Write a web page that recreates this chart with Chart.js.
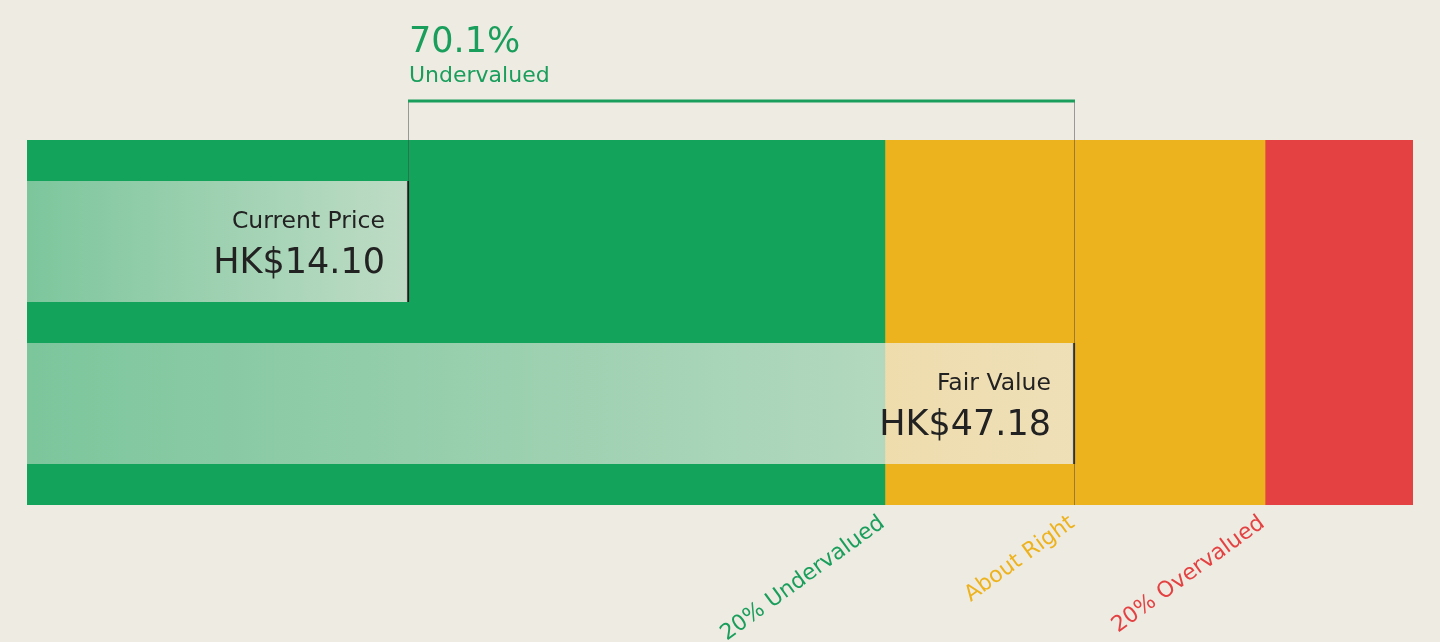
<!DOCTYPE html>
<html><head><meta charset="utf-8">
<script src="https://cdn.jsdelivr.net/npm/chart.js@4"></script>
<style>html,body{margin:0;padding:0;background:#EEEBE3;} #wrap{width:1440px;height:642px;}</style>
</head><body><div id="wrap"><canvas id="c" width="1440" height="642"></canvas></div>
<script>
// ---- data ----
const rowLabels = ['Current Price', 'Fair Value'];
const rowValues = [14.10, 47.18];
const valueTexts = ['HK$14.10', 'HK$47.18'];
const bandNames = ['20% Undervalued', 'About Right', '20% Overvalued'];
const bandEdges = [-4.87, 37.74, 56.62, 63.97];
const bandLabelValues = [37.74, 47.18, 56.62];
const headlineValue = '70.1%';
const headlineText = 'Undervalued';

// ---- styles ----
const bandColors = ['#13A35B', '#EDB31E', '#E44242'];
const labelColors = ['#1A9E5C', '#EDB31E', '#E44242'];
const FONT = "'DejaVu Sans', sans-serif";

function overlayGradient(ctx) {
  const chart = ctx.chart;
  const xs = chart.scales.x;
  if (!chart.chartArea || !xs) return 'rgba(239,236,227,0.6)';
  const x0 = xs.getPixelForValue(bandEdges[0]);
  const x1 = xs.getPixelForValue(rowValues[ctx.dataIndex] || rowValues[0]);
  const g = chart.ctx.createLinearGradient(x0, 0, Math.max(x1, x0 + 1), 0);
  g.addColorStop(0, 'rgba(239,236,227,0.48)');
  g.addColorStop(1, 'rgba(239,236,227,0.78)');
  return g;
}

const annot = {
  id: 'annot',
  afterDatasetsDraw(chart) {
    const c = chart.ctx, xs = chart.scales.x, yb = chart.scales.yBar, area = chart.chartArea;
    const xCur = Math.round(xs.getPixelForValue(rowValues[0]));
    const xFair = Math.round(xs.getPixelForValue(rowValues[1]));
    const barH = 121;
    const curTop = yb.getPixelForValue(0) - barH / 2;
    c.save();
    // grey connector lines
    c.strokeStyle = 'rgba(70,70,70,0.5)';
    c.lineWidth = 1;
    c.beginPath();
    c.moveTo(xCur - 0.5, 101); c.lineTo(xCur - 0.5, curTop);
    c.moveTo(xFair - 0.5, 101); c.lineTo(xFair - 0.5, area.bottom);
    c.stroke();
    // green bracket line
    c.strokeStyle = '#1A9E5C';
    c.lineWidth = 3;
    c.beginPath();
    c.moveTo(xCur - 1, 101); c.lineTo(xFair, 101);
    c.stroke();
    // headline
    c.fillStyle = '#1A9E5C';
    c.textAlign = 'left';
    c.textBaseline = 'alphabetic';
    c.font = '35px ' + FONT;
    c.fillText(headlineValue, xCur, 52);
    c.font = '22px ' + FONT;
    c.fillText(headlineText, xCur, 82);
    // bar texts
    c.fillStyle = '#222222';
    c.textAlign = 'right';
    rowValues.forEach((v, i) => {
      const x = xs.getPixelForValue(v) - 24;
      const top = yb.getPixelForValue(i) - barH / 2;
      c.font = '23.5px ' + FONT;
      c.fillText(rowLabels[i], x, top + 47);
      c.font = '35px ' + FONT;
      c.fillText(valueTexts[i], x, top + 92);
    });
    // band labels
    c.font = '22px ' + FONT;
    bandNames.forEach((n, i) => {
      const x = xs.getPixelForValue(bandLabelValues[i]);
      c.save();
      c.translate(x - 9, area.bottom + 7);
      c.rotate(-36 * Math.PI / 180);
      c.textAlign = 'right';
      c.textBaseline = 'top';
      c.fillStyle = labelColors[i];
      c.fillText(n, 0, 0);
      c.restore();
    });
    c.restore();
  }
};

const datasets = [
  {
    label: 'Valuation',
    yAxisID: 'yBar',
    data: rowValues.map((v, i) => ({ x: [bandEdges[0], v], y: i })),
    barThickness: 121,
    grouped: false,
    backgroundColor: overlayGradient,
    borderColor: '#1b1b1b',
    borderWidth: { left: 0, top: 0, bottom: 0, right: 2 },
    borderSkipped: false
  }
].concat(bandNames.map((n, i) => ({
  label: n,
  yAxisID: 'yBand',
  data: [{ x: [bandEdges[i], bandEdges[i + 1]], y: 'band' }],
  backgroundColor: bandColors[i],
  barPercentage: 1,
  categoryPercentage: 1,
  grouped: false,
  borderWidth: 0
})));

new Chart(document.getElementById('c'), {
  type: 'bar',
  data: { datasets },
  options: {
    indexAxis: 'y',
    responsive: false,
    animation: false,
    layout: { padding: { left: 27, right: 27, top: 140, bottom: 137 } },
    plugins: { legend: { display: false }, tooltip: { enabled: false }, title: { display: false } },
    scales: {
      x: { type: 'linear', min: bandEdges[0], max: bandEdges[3], display: false },
      yBand: { type: 'category', labels: ['band'], offset: true, display: false },
      yBar: { type: 'linear', min: -0.627, max: 1.627, reverse: true, offset: false, display: false }
    }
  },
  plugins: [annot]
});
</script>
</body></html>
